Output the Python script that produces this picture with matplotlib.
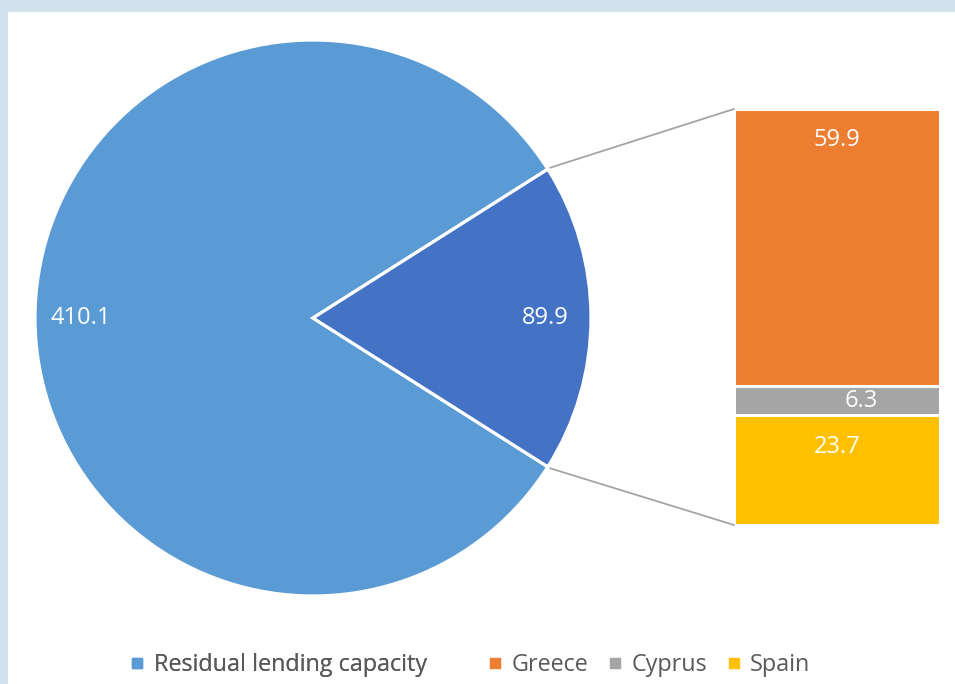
import matplotlib
matplotlib.use("Agg")
import matplotlib.pyplot as plt
from matplotlib.lines import Line2D
from matplotlib.patches import ConnectionPatch, Rectangle
import numpy as np

plt.rcParams["font.family"] = ["Open Sans", "DejaVu Sans"]

# data (EUR bn)
pie_labels = ["Residual lending capacity", "Programme countries"]
pie_values = [410.1, 89.9]
bar_labels = ["Spain", "Cyprus", "Greece"]  # stacked bottom -> top
bar_values = [23.7, 6.3, 59.9]

pie_colors = ["#5B9BD5", "#4472C4"]
bar_colors = {"Greece": "#ED7D31", "Cyprus": "#A5A5A5", "Spain": "#FFC000"}

W, H = 955, 684
fig = plt.figure(figsize=(W / 100, H / 100), dpi=100)
fig.patch.set_facecolor("#D2E3ED")
fig.patches.append(Rectangle((8 / W, 0), 1, 1 - 12 / H, transform=fig.transFigure,
                             facecolor="white", edgecolor="none", zorder=-1))

# pie
cx, cy, r = 313, 318, 278
ax_pie = fig.add_axes([(cx - r) / W, (H - cy - r) / H, 2 * r / W, 2 * r / H])
total = sum(pie_values)
half_angle = pie_values[1] / total * 180
wedges, _, autotexts = ax_pie.pie(
    pie_values, colors=pie_colors, startangle=half_angle, counterclock=True,
    autopct=lambda p: f"{p * total / 100:.1f}", pctdistance=0.835,
    wedgeprops=dict(edgecolor="white", linewidth=2.3),
    textprops=dict(color="white", fontsize=17),
)
ax_pie.set_xlim(-1, 1)
ax_pie.set_ylim(-1, 1)
ax_pie.set_aspect("equal")
ax_pie.axis("off")

# stacked bar
bx0, bx1, by0, by1 = 734, 940, 109, 525
ax_bar = fig.add_axes([bx0 / W, (H - by1) / H, (bx1 - bx0) / W, (by1 - by0) / H])
bottom = 0.0
for name, val in zip(bar_labels, bar_values):
    ax_bar.bar(0, val, bottom=bottom, width=1, color=bar_colors[name],
               edgecolor="white", linewidth=2.2)
    if name == "Cyprus":
        ax_bar.text(0.12, bottom + val / 2, f"{val:.1f}", color="white",
                    fontsize=17, ha="center", va="center")
    else:
        ax_bar.text(0, bottom + val - 6.8, f"{val:.1f}", color="white",
                    fontsize=17, ha="center", va="center")
    bottom += val
ax_bar.set_xlim(-0.5, 0.5)
ax_bar.set_ylim(0, total - pie_values[0])
ax_bar.axis("off")

# connector lines
a = np.deg2rad(half_angle)
for sgn, ytarget in [(1, sum(bar_values)), (-1, 0)]:
    con = ConnectionPatch(xyA=(1.01 * np.cos(a), sgn * 1.01 * np.sin(a)), coordsA=ax_pie.transData,
                          xyB=(-0.5, ytarget), coordsB=ax_bar.transData,
                          color="#A5A5A5", linewidth=1.3)
    fig.add_artist(con)

# legend (two groups, like the wide gap in the original)
leg_names = ["Residual lending capacity", "Greece", "Cyprus", "Spain"]
leg_colors = [pie_colors[0], bar_colors["Greece"], bar_colors["Cyprus"], bar_colors["Spain"]]
handles = [Line2D([], [], marker="s", linestyle="none", markersize=7,
                  markerfacecolor=c, markeredgecolor=c) for c in leg_colors]
leg_kw = dict(loc="center left", frameon=False, fontsize=16.8, labelcolor="#595959",
              handlelength=0.7, handletextpad=0.35, borderpad=0, borderaxespad=0)
leg1 = fig.legend(handles[:1], leg_names[:1], bbox_to_anchor=(129 / W, 1 - 665 / H), **leg_kw)
fig.legend(handles[1:], leg_names[1:], bbox_to_anchor=(487 / W, 1 - 665 / H),
           ncol=3, columnspacing=0.8, **leg_kw)
fig.add_artist(leg1)

fig.savefig("out.png", dpi=100, facecolor=fig.get_facecolor())
